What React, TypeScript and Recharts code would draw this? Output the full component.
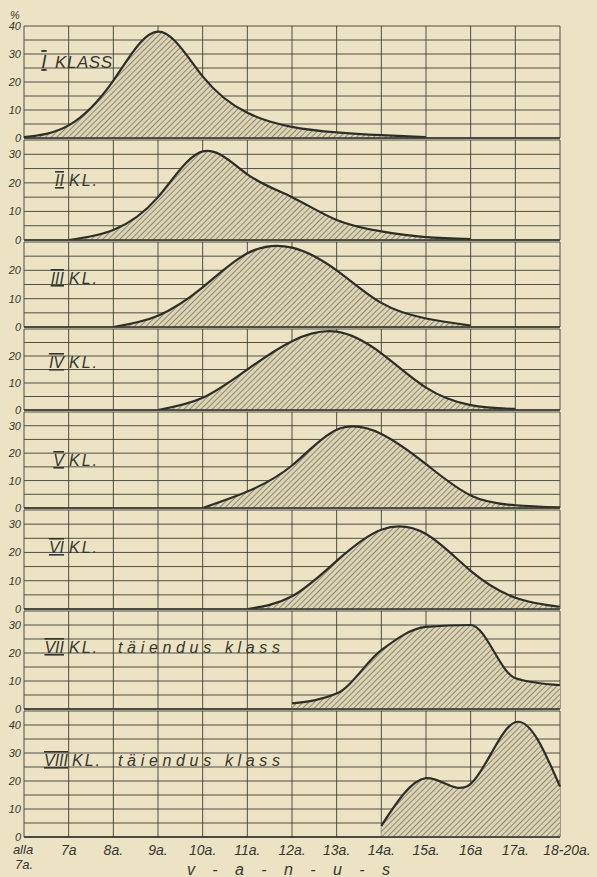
import React from "react";
import { AreaChart, Area, XAxis, YAxis, CartesianGrid, ReferenceLine } from "recharts";

// age groups (x axis)
const AGES = ["alla 7a.", "7a", "8a.", "9a.", "10a.", "11a.", "12a.", "13a.", "14a.", "15a.", "16a", "17a.", "18-20a."];

// % of pupils of each age, per class
const KLASS_1 = [0.3, 4.5, 20.5, 38, 22, 9, 4, 2, 1, 0.3, null, null, null];
const KLASS_2 = [null, 0, 3.5, 15, 31, 23, 15, 7, 3, 1, 0.3, null, null];
const KLASS_3 = [null, null, 0, 4, 14, 26, 28, 20, 8.5, 3, 0.5, null, null];
const KLASS_4 = [null, null, null, 0, 4.5, 15, 25.5, 29, 21, 8.3, 1.8, 0.4, null];
const KLASS_5 = [null, null, null, null, 0, 6, 15.5, 28.5, 27, 16, 4.6, 1, 0.2];
const KLASS_6 = [null, null, null, null, null, 0, 4.5, 17, 28, 26.5, 13.5, 4, 0.8];
const KLASS_7 = [null, null, null, null, null, null, 2, 5.5, 21, 29.3, 30, 11, 8.5];
const KLASS_8 = [null, null, null, null, null, null, null, null, 4, 21, 19, 41, 18];

const SERIES = [KLASS_1, KLASS_2, KLASS_3, KLASS_4, KLASS_5, KLASS_6, KLASS_7, KLASS_8];

// y axis per panel
const Y_MAX = [40, 35, 30, 30, 35, 35, 35, 45];
const Y_LABELS = [
  [0, 10, 20, 30, 40],
  [0, 10, 20, 30],
  [0, 10, 20],
  [0, 10, 20],
  [0, 10, 20, 30],
  [0, 10, 20, 30],
  [0, 10, 20, 30],
  [0, 10, 20, 30, 40],
];

// panel titles
const ROMAN = ["I", "II", "III", "IV", "V", "VI", "VII", "VIII"];
const CLASS_WORD = ["KLASS", "KL.", "KL.", "KL.", "KL.", "KL.", "KL.", "KL."];
const EXTRA = ["", "", "", "", "", "", "täiendus klass", "täiendus klass"];

// layout (plot top / bottom of each panel, px)
const PANEL_TOP = [26, 140, 242, 329, 412, 510, 611, 711];
const PANEL_BOTTOM = [138, 240, 327, 410, 508, 609, 709, 837];
const TITLE_Y = [68, 186, 284, 368, 466, 553, 653, 766];
const PAD = 8;

const INK = "#34372f";
const PAPER = "#ece3c4";
const FONT = "'Liberation Sans', Arial, sans-serif";

function renderYTick(p: any, labels: number[]) {
  const v = p.payload.value;
  if (!labels.includes(v)) return <g />;
  return (
    <text x={p.x} y={p.y + 4} textAnchor="end" fontSize={11} fontStyle="italic" fontFamily={FONT} fill={INK}>
      {v}
    </text>
  );
}

function renderXTick(p: any) {
  const v: string = p.payload.value;
  const style = { fontStyle: "italic", fontFamily: FONT, fill: INK };
  if (v.startsWith("alla")) {
    const [a, b] = v.split(" ");
    return (
      <g>
        <text x={p.x - 1} y={p.y + 17} textAnchor="middle" fontSize={13} {...style}>{a}</text>
        <text x={p.x} y={p.y + 32} textAnchor="middle" fontSize={13} {...style}>{b}</text>
      </g>
    );
  }
  const dx = v === "18-20a." ? 7 : 0;
  return (
    <text x={p.x + dx} y={p.y + 18} textAnchor="middle" fontSize={14} {...style}>{v}</text>
  );
}

function Panel({ idx }: { idx: number }) {
  const top = PANEL_TOP[idx];
  const bottom = PANEL_BOTTOM[idx];
  const isLast = idx === SERIES.length - 1;
  const axisH = isLast ? 40 : 0;
  const max = Y_MAX[idx];
  const ticks: number[] = [];
  for (let t = 0; t <= max; t += 5) ticks.push(t);
  const data = AGES.map((age, j) => ({ age, v: SERIES[idx][j] }));
  // the VII class curve has a flat top, a natural spline overshoots there
  const curve = idx === 6 ? "monotone" : "natural";

  return (
    <div style={{ position: "absolute", left: 0, top: top - PAD }}>
      <AreaChart
        width={597}
        height={bottom - top + 2 * PAD + axisH}
        data={data}
        margin={{ top: PAD, right: 37, bottom: PAD, left: 0 }}
      >
        <defs>
          <pattern id={`hatch${idx}`} patternUnits="userSpaceOnUse" width="4" height="4" patternTransform="rotate(45)">
            <rect width="4" height="4" fill="#ddd4b3" />
            <line x1="0" y1="0" x2="0" y2="4" stroke="#4b4e45" strokeWidth="1.1" />
          </pattern>
        </defs>
        <CartesianGrid stroke={INK} strokeOpacity={0.85} strokeWidth={1} />
        <XAxis
          dataKey="age"
          hide={!isLast}
          interval={0}
          height={axisH}
          axisLine={false}
          tickLine={false}
          tickSize={0}
          tickMargin={0}
          tick={renderXTick}
        />
        <YAxis
          width={24}
          domain={[0, max]}
          ticks={ticks}
          interval={0}
          allowDataOverflow
          axisLine={false}
          tickLine={false}
          tickSize={0}
          tickMargin={3}
          tick={(p: any) => renderYTick(p, Y_LABELS[idx])}
        />
        <Area
          type={curve}
          dataKey="v"
          stroke="#2c2f28"
          strokeWidth={2.2}
          fill={`url(#hatch${idx})`}
          fillOpacity={1}
          dot={false}
          activeDot={false}
          isAnimationActive={false}
        />
        <ReferenceLine y={0} stroke={INK} strokeWidth={2.2} strokeOpacity={0.8} />
      </AreaChart>
    </div>
  );
}

export default function App() {
  const label = { fontFamily: FONT, fontStyle: "italic", fill: INK } as const;
  return (
    <div style={{ position: "absolute", left: 0, top: 0, width: 597, height: 877, background: PAPER, overflow: "hidden" }}>
      {SERIES.map((_, i) => (
        <Panel key={i} idx={i} />
      ))}
      <svg width={597} height={877} style={{ position: "absolute", left: 0, top: 0, pointerEvents: "none" }}>
        <text x={15} y={19} textAnchor="middle" fontSize={11} {...label}>%</text>
        {ROMAN.map((r, i) => {
          const y = TITLE_Y[i];
          if (i === 0) {
            return (
              <g key={r}>
                <text x={44} y={y} textAnchor="middle" fontSize={19} {...label} style={{ textDecoration: "underline overline" }}>{r}</text>
                <text x={55} y={y} fontSize={17} textLength={57} lengthAdjust="spacing" {...label}>{CLASS_WORD[i]}</text>
              </g>
            );
          }
          return (
            <g key={r}>
              <text x={i === 7 ? 68 : 64} y={y} textAnchor="end" fontSize={16} {...label} style={{ textDecoration: "underline overline" }}>{r}</text>
              <text x={i === 7 ? 72 : 69} y={y} fontSize={16} textLength={28} lengthAdjust="spacing" {...label}>{CLASS_WORD[i]}</text>
              {EXTRA[i] && (
                <text x={118} y={y} fontSize={16} textLength={162} lengthAdjust="spacing" {...label}>{EXTRA[i]}</text>
              )}
            </g>
          );
        })}
        <text x={187} y={875} fontSize={16} textLength={203} lengthAdjust="spacing" {...label}>v - a - n - u - s</text>
      </svg>
    </div>
  );
}
